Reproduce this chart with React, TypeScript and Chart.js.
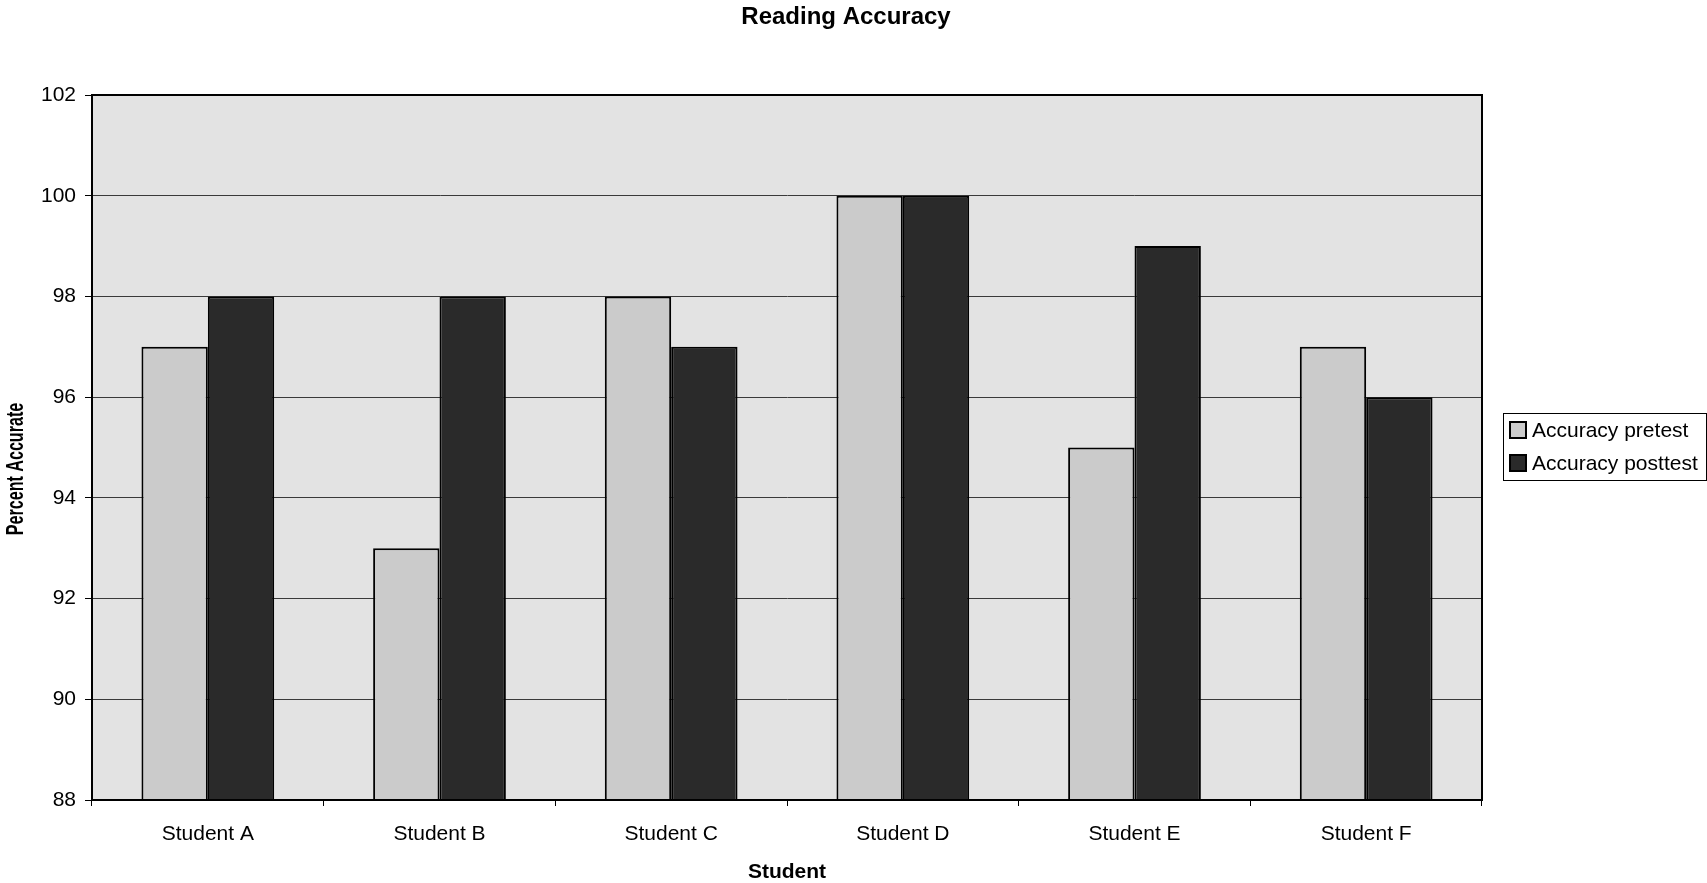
import React, { useEffect, useRef } from "react";
import { Chart, registerables } from "chart.js";

Chart.register(...registerables);

const categories = ["Student A", "Student B", "Student C", "Student D", "Student E", "Student F"];
const pretest = [97, 93, 98, 100, 95, 97];
const posttest = [98, 98, 97, 100, 99, 96];
const seriesLabels = ["Accuracy pretest", "Accuracy posttest"];
const chartTitle = "Reading Accuracy";
const xTitle = "Student";
const yTitle = "Percent Accurate";
const yMin = 88;
const yMax = 102;
const yStep = 2;

const FONT = "'Liberation Sans', Arial, Helvetica, sans-serif";
const PRE_COLOR = "#cbcbcb";
const POST_COLOR = "#2a2a2a";
const PLOT_BG = "#e3e3e3";

const plotBgPlugin = {
  id: "plotBg",
  beforeDraw(chart: any) {
    const { ctx, chartArea } = chart;
    if (!chartArea) return;
    ctx.save();
    ctx.fillStyle = PLOT_BG;
    ctx.fillRect(chartArea.left, chartArea.top, chartArea.right - chartArea.left, chartArea.bottom - chartArea.top);
    ctx.restore();
  },
  afterDraw(chart: any) {
    const { ctx, chartArea } = chart;
    ctx.save();
    ctx.strokeStyle = "#000";
    ctx.lineWidth = 2;
    ctx.strokeRect(chartArea.left, chartArea.top, chartArea.right - chartArea.left, chartArea.bottom - chartArea.top);
    // chart title
    ctx.fillStyle = "#000";
    ctx.font = `bold 24px ${FONT}`;
    ctx.textAlign = "center";
    ctx.textBaseline = "middle";
    ctx.fillText(chartTitle, 846, 17);
    // y axis title (condensed, like the original)
    ctx.save();
    ctx.translate(17, 469);
    ctx.rotate(-Math.PI / 2);
    ctx.scale(0.7, 1);
    ctx.font = `bold 23px ${FONT}`;
    ctx.fillText(yTitle, 0, 0);
    ctx.restore();
    ctx.restore();
  },
};

const legendPlugin = {
  id: "boxLegend",
  afterDraw(chart: any) {
    const { ctx } = chart;
    const x = 1503;
    const y = 413;
    const w = 203;
    const h = 67;
    ctx.save();
    ctx.fillStyle = "#fff";
    ctx.fillRect(x, y, w, h);
    ctx.strokeStyle = "#000";
    ctx.lineWidth = 1;
    ctx.strokeRect(x + 0.5, y + 0.5, w, h);
    const ds = chart.data.datasets;
    ds.forEach((d: any, i: number) => {
      const cy = y + 17 + i * 33;
      ctx.fillStyle = d.backgroundColor;
      ctx.fillRect(1510, cy - 8, 16, 16);
      ctx.strokeStyle = "#000";
      ctx.lineWidth = 2;
      ctx.strokeRect(1510, cy - 8, 16, 16);
      ctx.fillStyle = "#000";
      ctx.font = `21px ${FONT}`;
      ctx.textBaseline = "middle";
      ctx.textAlign = "left";
      ctx.fillText(d.label, 1532, cy + 1);
    });
    ctx.restore();
  },
};

export default function App() {
  const ref = useRef<HTMLCanvasElement>(null);

  useEffect(() => {
    if (!ref.current) return;
    Chart.defaults.font.family = FONT;
    Chart.defaults.color = "#000";
    const chart = new Chart(ref.current, {
      type: "bar",
      data: {
        labels: categories,
        datasets: [
          {
            label: seriesLabels[0],
            data: pretest,
            backgroundColor: PRE_COLOR,
            borderColor: "#000",
            borderWidth: 2,
            categoryPercentage: 0.573,
            barPercentage: 1,
          },
          {
            label: seriesLabels[1],
            data: posttest,
            backgroundColor: POST_COLOR,
            borderColor: "#000",
            borderWidth: 2,
            categoryPercentage: 0.573,
            barPercentage: 1,
          },
        ],
      },
      options: {
        responsive: false,
        animation: false,
        devicePixelRatio: 1,
        layout: { padding: { top: 95, left: 0, right: 225, bottom: 0 } },
        plugins: {
          legend: { display: false },
          tooltip: { enabled: false },
          title: { display: false },
        },
        scales: {
          x: {
            offset: true,
            grid: {
              offset: true,
              drawOnChartArea: false,
              drawTicks: true,
              tickLength: 6,
              color: "#000",
            },
            border: { display: true, color: "#000", width: 2 },
            ticks: { font: { size: 21, family: FONT }, color: "#000", padding: 16, maxRotation: 0 },
            title: {
              display: true,
              text: xTitle,
              color: "#000",
              font: { size: 21, weight: "bold", family: FONT },
              padding: { top: 0, bottom: -2 },
            },
            afterFit(scale: any) {
              scale.height = 83;
            },
          },
          y: {
            min: yMin,
            max: yMax,
            grid: {
              color: "#3a3a3a",
              lineWidth: 1,
              drawTicks: true,
              tickLength: 7,
              tickColor: "#000",
            },
            border: { display: true, color: "#000", width: 2 },
            ticks: { stepSize: yStep, font: { size: 21, family: FONT }, color: "#000", padding: 9 },
            title: { display: false },
            afterFit(scale: any) {
              scale.width = 92;
            },
          },
        },
      },
      plugins: [plotBgPlugin, legendPlugin],
    } as any);
    return () => chart.destroy();
  }, []);

  return (
    <div style={{ position: "fixed", left: 0, top: 0, width: 1707, height: 883, background: "#fff" }}>
      <canvas ref={ref} width={1707} height={883} style={{ display: "block", width: 1707, height: 883 }} />
    </div>
  );
}
